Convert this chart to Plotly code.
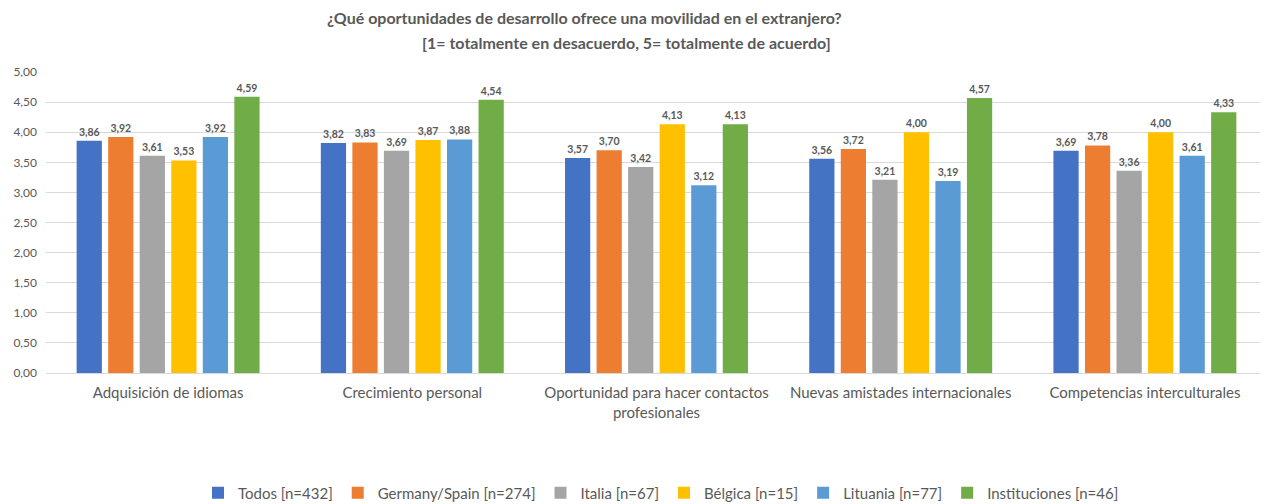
import plotly.graph_objects as go

categories = [
    "Adquisición de idiomas",
    "Crecimiento personal",
    "Oportunidad para hacer contactos<br>profesionales",
    "Nuevas amistades internacionales",
    "Competencias interculturales",
]
series_names = [
    "Todos [n=432]",
    "Germany/Spain [n=274]",
    "Italia [n=67]",
    "Bélgica [n=15]",
    "Lituania [n=77]",
    "Instituciones [n=46]",
]
todos = [3.86, 3.82, 3.57, 3.56, 3.69]
germany_spain = [3.92, 3.83, 3.70, 3.72, 3.78]
italia = [3.61, 3.69, 3.42, 3.21, 3.36]
belgica = [3.53, 3.87, 4.13, 4.00, 4.00]
lituania = [3.92, 3.88, 3.12, 3.19, 3.61]
instituciones = [4.59, 4.54, 4.13, 4.57, 4.33]
values = [todos, germany_spain, italia, belgica, lituania, instituciones]
colors = ["#4472C4", "#ED7D31", "#A5A5A5", "#FFC000", "#5B9BD5", "#70AD47"]

FONT = "Lato"
GRAY = "#595959"

# page body has an 8px margin: screen pixel = figure pixel + 8
OFF = 8
W, H = 1268, 504
L = 46 - OFF
T = 72 - OFF
R = W - (1267 - OFF)
B = H - (373 - OFF)
pw = W - L - R
ph = H - T - B


def px(x):
    return (x - OFF - L) / pw


def py(y):
    return (H - B - (y - OFF)) / ph


fig = go.Figure()
for name, vals, col in zip(series_names, values, colors):
    fig.add_trace(go.Bar(
        x=categories, y=vals, name=name,
        marker=dict(color=col, line=dict(width=0)),
        texttemplate="<b>%{y:.2f}</b>", textposition="outside",
        textfont=dict(family=FONT, size=10.5, color=GRAY),
        cliponaxis=False,
    ))

fig.update_layout(
    width=W, height=H,
    margin=dict(l=L, r=R, t=T, b=B, autoexpand=False),
    paper_bgcolor="white", plot_bgcolor="white",
    separators=",.",
    barmode="group", bargap=0.225, bargroupgap=0.2,
    font=dict(family=FONT, color=GRAY),
    showlegend=True,
    legend=dict(orientation="h", x=px(661), xanchor="center", y=py(493), yanchor="middle",
                font=dict(family=FONT, size=15, color=GRAY), traceorder="normal",
                itemwidth=30),
)
fig.update_yaxes(range=[0, 5], dtick=0.5, tickformat=".2f", automargin=False,
                 gridcolor="#D9D9D9", gridwidth=1, zeroline=False, ticklabelstandoff=8,
                 showline=False, ticks="", tickfont=dict(family=FONT, size=12, color=GRAY))
fig.update_xaxes(showline=True, linecolor="#D9D9D9", linewidth=1, ticks="", automargin=False,
                 ticklabelstandoff=6,
                 tickfont=dict(family=FONT, size=15, color=GRAY))

fig.add_annotation(xref="paper", yref="paper", x=px(584), y=py(18),
                   xanchor="center", yanchor="middle",
                   text="<b>¿Qué oportunidades de desarrollo ofrece una movilidad en el extranjero?</b>",
                   showarrow=False, font=dict(family=FONT, size=16, color=GRAY))
fig.add_annotation(xref="paper", yref="paper", x=px(626), y=py(43),
                   xanchor="center", yanchor="middle",
                   text="<b>[1= totalmente en desacuerdo, 5= totalmente de acuerdo]</b>",
                   showarrow=False, font=dict(family=FONT, size=16, color=GRAY))

fig.write_html("out.html")
